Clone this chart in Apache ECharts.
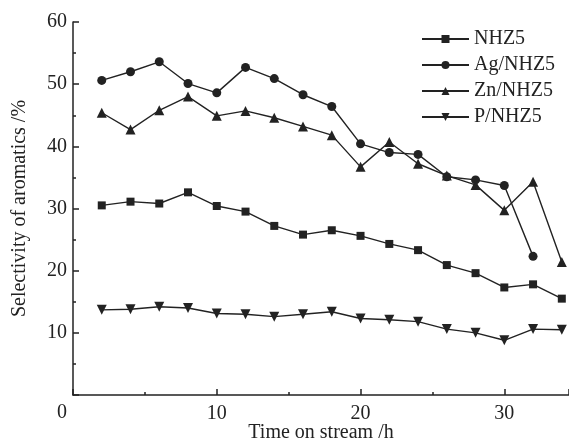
<!DOCTYPE html>
<html>
<head>
<meta charset="utf-8">
<script src="https://cdn.jsdelivr.net/npm/echarts@6/dist/echarts.min.js"></script>
<style>
  html, body { margin: 0; padding: 0; background: #fff; }
  #main { width: 569px; height: 443px; }
</style>
</head>
<body>
<div id="main"></div>
<script>
// 数据
var hours = [2, 4, 6, 8, 10, 12, 14, 16, 18, 20, 22, 24, 26, 28, 30, 32, 34];
var nhz5 = [30.5, 31.1, 30.8, 32.6, 30.4, 29.5, 27.2, 25.8, 26.5, 25.6, 24.3, 23.3, 20.9, 19.6, 17.3, 17.8, 15.5];
var agNhz5 = [50.6, 52.0, 53.6, 50.1, 48.6, 52.7, 50.9, 48.3, 46.4, 40.4, 39.0, 38.7, 35.1, 34.6, 33.7, 22.3];
var znNhz5 = [45.4, 42.7, 45.8, 48.0, 44.9, 45.7, 44.6, 43.2, 41.8, 36.7, 40.7, 37.2, 35.3, 33.8, 29.7, 34.3, 21.4];
var pNhz5 = [13.7, 13.8, 14.2, 14.0, 13.1, 13.0, 12.6, 13.0, 13.4, 12.3, 12.1, 11.8, 10.6, 10.0, 8.8, 10.6, 10.5];
var seriesNames = ['NHZ5', 'Ag/NHZ5', 'Zn/NHZ5', 'P/NHZ5'];

function pairs(vals) {
  return vals.map(function (v, i) { return [hours[i], v]; });
}

var font = 'Liberation Serif';
var fs = 20;
var ink = '#222';
var downTri = 'path://M0,0 L10,0 L5,9 Z';

function mkSeries(name, vals, symbol, size) {
  return {
    name: name,
    type: 'line',
    data: pairs(vals),
    symbol: symbol,
    symbolSize: size,
    showAllSymbol: true,
    lineStyle: { color: ink, width: 1.4 },
    itemStyle: { color: ink },
    emphasis: { disabled: true }
  };
}

var myChart = echarts.init(document.getElementById('main'));

var option = {
  animation: false,
  backgroundColor: '#fff',
  grid: { left: 73, right: 0, top: 22, bottom: 48, outerBoundsMode: 'none' },
  legend: {
    orient: 'vertical',
    left: 416,
    top: 24,
    itemWidth: 47,
    itemHeight: 10,
    itemGap: 6,
    data: seriesNames,
    textStyle: { fontFamily: font, fontSize: fs, color: ink, lineHeight: 20 }
  },
  xAxis: {
    type: 'value',
    min: 0,
    max: 34.5,
    interval: 10,
    name: 'Time on stream /h',
    nameLocation: 'middle',
    nameGap: 28,
    nameMoveOverlap: false,
    nameTextStyle: { fontFamily: font, fontSize: fs, color: ink },
    axisLine: { lineStyle: { color: ink, width: 1.5 } },
    axisTick: { inside: true, length: 6, lineStyle: { color: ink, width: 1.5 } },
    minorTick: { show: true, splitNumber: 2, length: 3, lineStyle: { color: ink, width: 1.5 } },
    axisLabel: {
      fontFamily: font, fontSize: fs, color: ink, margin: 9,
      showMaxLabel: false,
      formatter: function (v) { return v === 0 ? '' : v; }
    },
    splitLine: { show: false }
  },
  yAxis: {
    type: 'value',
    min: 0,
    max: 60,
    interval: 10,
    name: 'Selectivity of aromatics /%',
    nameLocation: 'middle',
    nameGap: 43,
    nameMoveOverlap: false,
    nameTextStyle: { fontFamily: font, fontSize: fs, color: ink },
    axisLine: { show: true, lineStyle: { color: ink, width: 1.5 } },
    axisTick: { show: true, inside: true, length: 6, lineStyle: { color: ink, width: 1.5 } },
    minorTick: { show: true, splitNumber: 2, length: 3, lineStyle: { color: ink, width: 1.5 } },
    axisLabel: {
      fontFamily: font, fontSize: fs, color: ink, margin: 6,
      formatter: function (v) { return v === 0 ? '' : v; }
    },
    splitLine: { show: false }
  },
  graphic: [{
    type: 'text',
    left: 57,
    top: 403,
    style: { text: '0', font: '20px "Liberation Serif"', fill: ink }
  }],
  series: [
    mkSeries(seriesNames[0], nhz5, 'rect', 8),
    mkSeries(seriesNames[1], agNhz5, 'circle', 9),
    mkSeries(seriesNames[2], znNhz5, 'triangle', 10),
    mkSeries(seriesNames[3], pNhz5, downTri, 10)
  ]
};

myChart.setOption(option);
</script>
</body>
</html>
